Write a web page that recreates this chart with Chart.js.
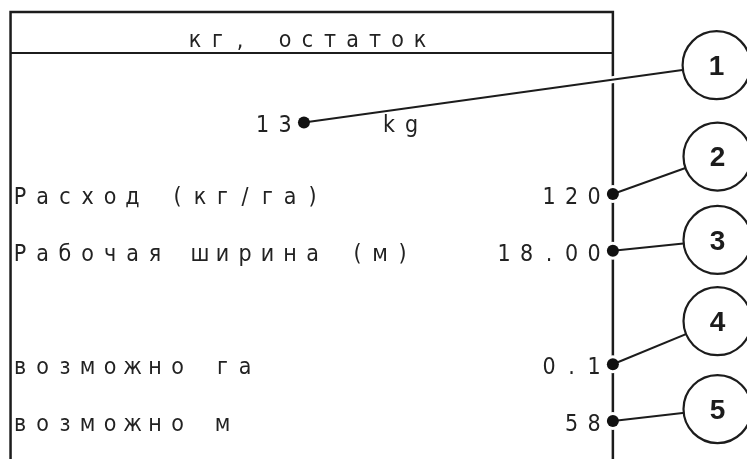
<!DOCTYPE html>
<html>
<head>
<meta charset="utf-8">
<script src="https://cdn.jsdelivr.net/npm/chart.js"></script>
<style>
  html, body { margin: 0; padding: 0; background: #fff; }
  #box { width: 747px; height: 459px; }
</style>
</head>
<body>
<div id="box"><canvas id="screenChart"></canvas></div>
<script>
// screen content
const headerText = "кг, остаток";
const rowLabels = ["", "Расход (кг/га)", "Рабочая ширина (м)", "возможно га", "возможно м"];
const rowValues = ["13", "120", "18.00", "0.1", "58"];
const rowUnits = ["kg", "", "", "", ""];
const calloutNumbers = ["1", "2", "3", "4", "5"];

// layout, in scale units (x = text columns, y = text rows)
const dotCol = [12.62, 26.35, 26.35, 26.35, 26.35];
const dotRow = [0.74, 2, 3, 5, 6];
const calloutCol = [30.96, 31, 31, 31, 31];
const calloutRow = [-0.27, 1.34, 2.81, 4.24, 5.79];
const unitCol = 16.4;
const headerCol = 12.78;
const headerRow = -0.77;
const frameLeft = -0.42;
const frameRight = 26.35;
const frameTop = -1.207;
const frameBottom = 6.7;
const headerRule = -0.485;

const ink = "#1c1c1c";

const dots = dotCol.map((c, i) => ({ x: c, y: dotRow[i] }));
const callouts = calloutCol.map((c, i) => ({ x: c, y: calloutRow[i] }));

const leaders = (color, width, order) =>
  dots.map((d, i) => ({
    data: [d, callouts[i]],
    showLine: true,
    borderColor: color,
    borderWidth: width,
    pointRadius: 0,
    order: order,
  }));

const screenText = {
  id: "screenText",
  afterDatasetsDraw(chart) {
    const { ctx, scales: { x, y } } = chart;
    const put = (str, col, row) => {
      for (let i = 0; i < str.length; i++) {
        ctx.fillText(str[i], x.getPixelForValue(col + i), y.getPixelForValue(row) + 10);
      }
    };
    ctx.save();
    ctx.font = '23px "DejaVu Sans Condensed", "DejaVu Sans", sans-serif';
    ctx.fillStyle = "#222";
    ctx.textAlign = "center";
    ctx.textBaseline = "alphabetic";

    put(headerText, headerCol - (headerText.length - 1) / 2, headerRow);
    rowLabels.forEach((t, i) => put(t, 0, dotRow[i]));
    rowValues.forEach((t, i) => put(t, dotCol[i] - 0.84 - (t.length - 1), dotRow[i]));
    rowUnits.forEach((t, i) => put(t, unitCol, dotRow[i]));

    ctx.font = 'bold 28px "Liberation Sans", Arial, sans-serif';
    ctx.fillStyle = ink;
    ctx.textBaseline = "middle";
    calloutNumbers.forEach((n, i) => {
      ctx.fillText(n, x.getPixelForValue(calloutCol[i]), y.getPixelForValue(calloutRow[i]) + 2);
    });
    ctx.restore();
  },
};

const config = {
  type: "scatter",
  data: {
    datasets: [
      {
        data: [
          { x: frameLeft, y: frameBottom },
          { x: frameLeft, y: frameTop },
          { x: frameRight, y: frameTop },
          { x: frameRight, y: frameBottom },
        ],
        showLine: true,
        borderColor: ink,
        borderWidth: 2.5,
        pointRadius: 0,
        order: 7,
      },
      {
        data: [{ x: frameLeft, y: headerRule }, { x: frameRight, y: headerRule }],
        showLine: true,
        borderColor: ink,
        borderWidth: 2,
        pointRadius: 0,
        order: 7,
      },
      ...leaders("#fff", 7, 6),
      {
        data: dots,
        pointRadius: 9,
        backgroundColor: "#fff",
        borderWidth: 0,
        order: 5,
      },
      ...leaders(ink, 2, 4),
      {
        data: dots,
        pointRadius: 6,
        backgroundColor: "#111",
        borderWidth: 0,
        order: 3,
      },
      {
        data: callouts,
        pointRadius: 34,
        backgroundColor: "#fff",
        borderColor: ink,
        borderWidth: 2.2,
        order: 1,
      },
    ],
  },
  options: {
    responsive: true,
    maintainAspectRatio: false,
    animation: false,
    events: [],
    layout: { padding: 0, autoPadding: false },
    plugins: { legend: { display: false }, tooltip: { enabled: false } },
    scales: {
      x: { type: "linear", display: false, min: -0.8889, max: 32.311 },
      y: { type: "linear", display: false, reverse: true, min: -1.4185, max: 6.6696 },
    },
  },
  plugins: [screenText],
};

new Chart(document.getElementById("screenChart").getContext("2d"), config);
</script>
</body>
</html>
